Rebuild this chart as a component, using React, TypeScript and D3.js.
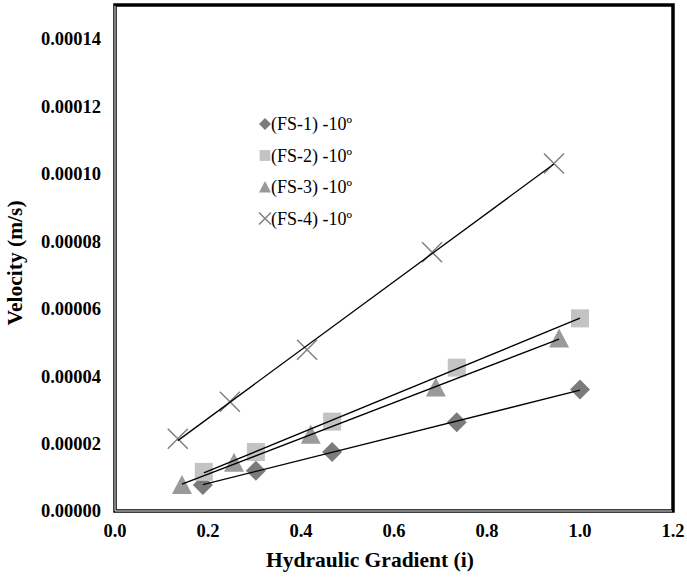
import * as d3 from 'd3';

// Hydraulic gradient (i) and velocity (m/s) for each sample
const fs1X = [0.189, 0.303, 0.467, 0.735, 1.0];
const fs1Y = [0.0000077, 0.0000119, 0.0000175, 0.0000263, 0.000036];

const fs2X = [0.191, 0.303, 0.467, 0.735, 1.0];
const fs2Y = [0.0000116, 0.0000175, 0.0000265, 0.0000425, 0.0000571];

const fs3X = [0.144, 0.256, 0.421, 0.69, 0.955];
const fs3Y = [0.0000077, 0.0000143, 0.0000226, 0.0000366, 0.0000511];

const fs4X = [0.135, 0.247, 0.413, 0.682, 0.944];
const fs4Y = [0.0000214, 0.0000324, 0.0000478, 0.0000767, 0.000103];

const seriesNames = ['(FS-1) -10º', '(FS-2) -10º', '(FS-3) -10º', '(FS-4) -10º'];
const xTicks = [0, 0.2, 0.4, 0.6, 0.8, 1.0, 1.2];
const yTicks = [0, 0.00002, 0.00004, 0.00006, 0.00008, 0.0001, 0.00012, 0.00014];

const W = 687;
const H = 577;
const margin = { top: 5, right: 14, bottom: 66, left: 115 };
const width = W - margin.left - margin.right;
const height = H - margin.top - margin.bottom;
const FONT = 'Liberation Serif';

const series = [
  { name: seriesNames[0], xs: fs1X, ys: fs1Y, shape: 'diamond', color: '#7b7b7b' },
  { name: seriesNames[1], xs: fs2X, ys: fs2Y, shape: 'square', color: '#c3c3c3' },
  { name: seriesNames[2], xs: fs3X, ys: fs3Y, shape: 'triangle', color: '#9a9a9a' },
  { name: seriesNames[3], xs: fs4X, ys: fs4Y, shape: 'cross', color: '#808080' },
];

// least squares trendline between the first and last x of a series
function fitLine(xs: number[], ys: number[]) {
  const mx = d3.mean(xs) as number;
  const my = d3.mean(ys) as number;
  let num = 0;
  let den = 0;
  xs.forEach((x, i) => {
    num += (x - mx) * (ys[i] - my);
    den += (x - mx) * (x - mx);
  });
  const slope = num / den;
  const icpt = my - slope * mx;
  const x0 = d3.min(xs) as number;
  const x1 = d3.max(xs) as number;
  return [[x0, icpt + slope * x0], [x1, icpt + slope * x1]];
}

function Marker({ shape, color, size }: { shape: string; color: string; size: number }) {
  const h = size / 2;
  if (shape === 'diamond') return <path d={`M0,${-h}L${h},0L0,${h}L${-h},0Z`} fill={color} />;
  if (shape === 'square')
    return <rect x={-h * 0.9} y={-h * 0.9} width={size * 0.9} height={size * 0.9} fill={color} />;
  if (shape === 'triangle') return <path d={`M0,${-h}L${h},${h * 0.9}L${-h},${h * 0.9}Z`} fill={color} />;
  return (
    <path d={`M${-h},${-h}L${h},${h}M${-h},${h}L${h},${-h}`} stroke={color} strokeWidth={1.5} fill="none" />
  );
}

export default function App() {
  const x = d3.scaleLinear().domain([0, 1.2]).range([0, width]);
  const y = d3.scaleLinear().domain([0, 0.00015]).range([height, 0]);
  const line = d3.line<number[]>().x(d => x(d[0])).y(d => y(d[1]));

  const tickStyle = { fontFamily: FONT, fontWeight: 'bold', fontSize: 18.5 } as const;
  const titleStyle = { fontFamily: FONT, fontWeight: 'bold', fontSize: 21.5 } as const;

  return (
    <svg width={W} height={H} style={{ position: 'absolute', left: 0, top: 0 }}>
      <g transform={`translate(${margin.left},${margin.top})`}>
        {/* markers */}
        {series.map(s =>
          s.xs.map((xv, i) => (
            <g key={s.name + i} transform={`translate(${x(xv)},${y(s.ys[i])})`}>
              <Marker shape={s.shape} color={s.color} size={20} />
            </g>
          ))
        )}

        {/* trend lines */}
        {series.map(s => (
          <path key={s.name} d={line(fitLine(s.xs, s.ys)) || ''} stroke="#000" strokeWidth={1.3} fill="none" />
        ))}

        {/* frame */}
        <rect x={0} y={0} width={width} height={height} fill="none" stroke="#000" strokeWidth={3.5} />
        <line x1={0} x2={0} y1={1} y2={height} stroke="#fff" strokeWidth={1} />
        <line x1={0} x2={width - 1} y1={height} y2={height} stroke="#fff" strokeWidth={1} />

        {xTicks.map(t => (
          <text key={t} x={x(t)} y={height + 26} textAnchor="middle" style={tickStyle}>
            {t.toFixed(1)}
          </text>
        ))}
        {yTicks.map(t => (
          <text key={t} x={-14} y={y(t)} dy="0.35em" textAnchor="end" style={tickStyle}>
            {t.toFixed(5)}
          </text>
        ))}
      </g>

      <text x={370} y={567} textAnchor="middle" style={titleStyle}>
        Hydraulic Gradient (i)
      </text>
      <text transform="translate(22,263) rotate(-90)" textAnchor="middle" style={titleStyle}>
        Velocity (m/s)
      </text>

      {/* legend */}
      <g transform="translate(265,124)">
        {series.map((s, i) => (
          <g key={s.name} transform={`translate(0,${i * 31.5})`}>
            <Marker shape={s.shape} color={s.color} size={12} />
            <text x={6} y={0} dy="0.35em" style={{ fontFamily: FONT, fontSize: 18 }}>
              {s.name}
            </text>
          </g>
        ))}
      </g>
    </svg>
  );
}
